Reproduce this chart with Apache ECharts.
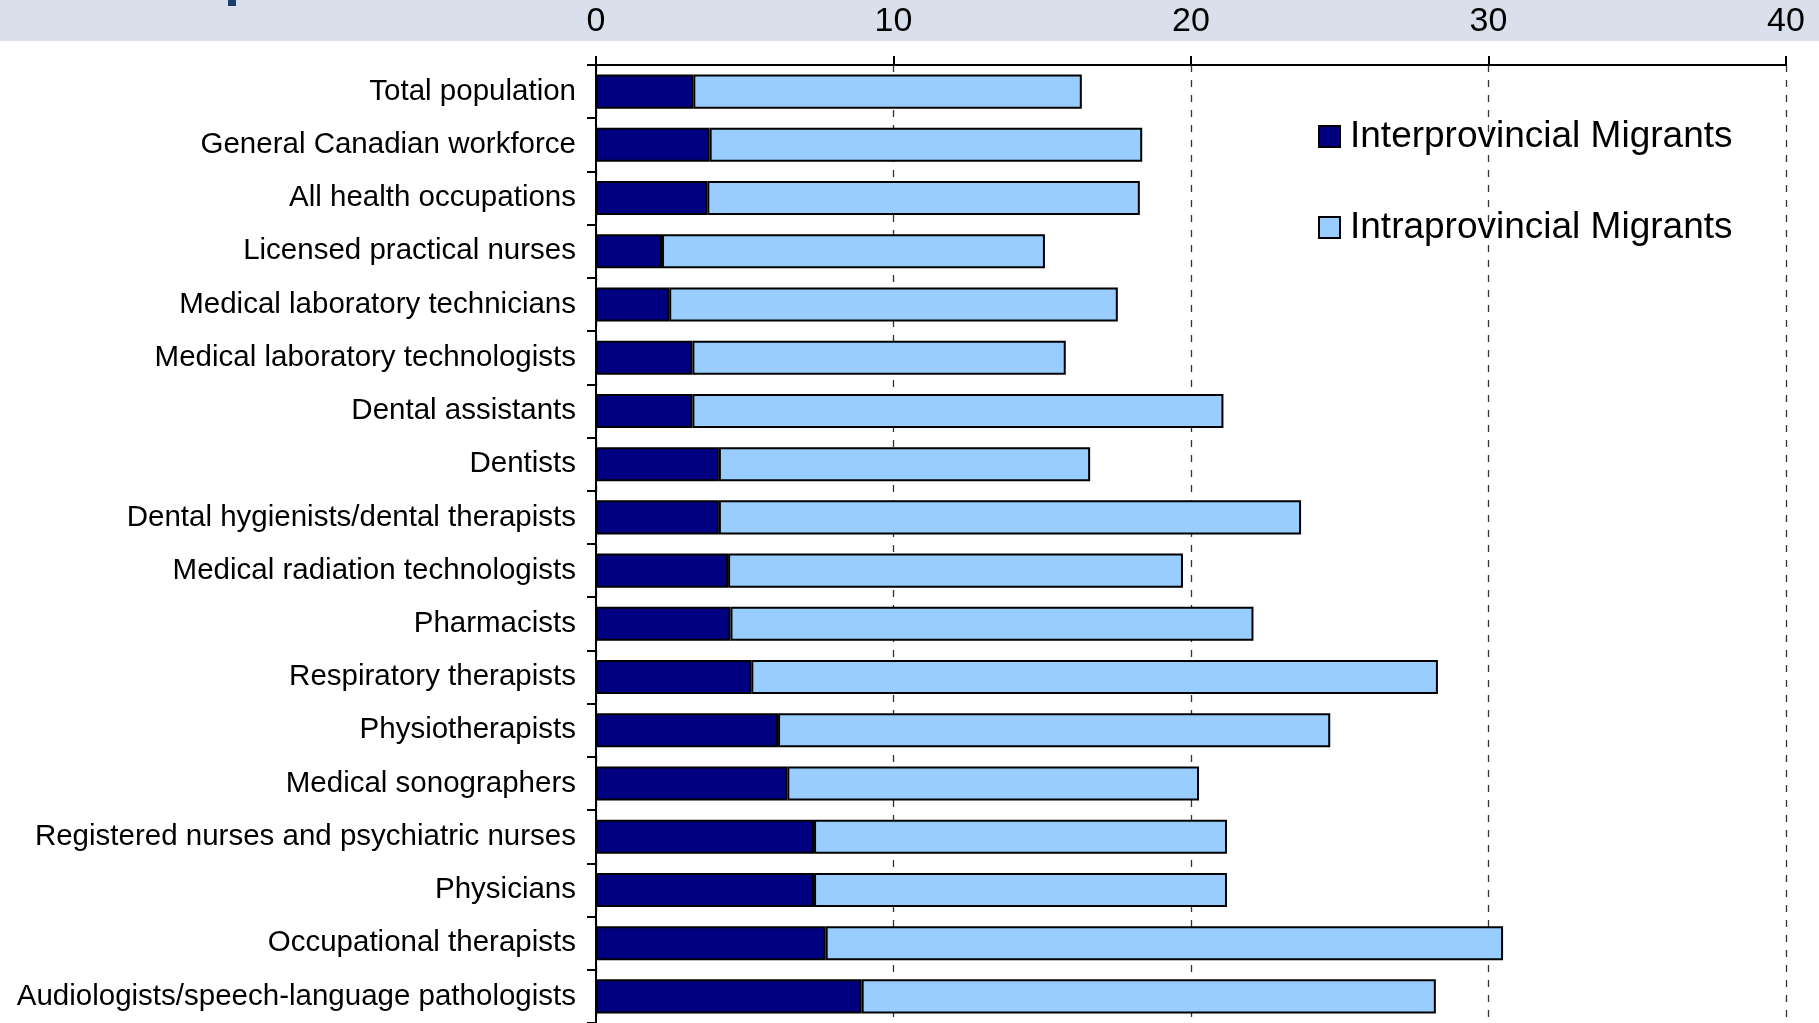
<!DOCTYPE html>
<html>
<head>
<meta charset="utf-8">
<script src="https://cdn.jsdelivr.net/npm/echarts@6/dist/echarts.min.js"></script>
<style>html,body{margin:0;padding:0;background:#fff;}#c{width:1819px;height:1023px;}</style>
</head>
<body>
<div id="c"></div>
<script>
const categories = [
  "Total population",
  "General Canadian workforce",
  "All health occupations",
  "Licensed practical nurses",
  "Medical laboratory technicians",
  "Medical laboratory technologists",
  "Dental assistants",
  "Dentists",
  "Dental hygienists/dental therapists",
  "Medical radiation technologists",
  "Pharmacists",
  "Respiratory therapists",
  "Physiotherapists",
  "Medical sonographers",
  "Registered nurses and psychiatric nurses",
  "Physicians",
  "Occupational therapists",
  "Audiologists/speech-language pathologists"
];
const interprovincial = [3.27, 3.82, 3.74, 2.22, 2.46, 3.24, 3.24, 4.13, 4.13, 4.44, 4.52, 5.22, 6.12, 6.43, 7.33, 7.33, 7.72, 8.93];
const intraprovincial = [13.06, 14.54, 14.54, 12.87, 15.08, 12.55, 17.85, 12.48, 19.57, 15.29, 17.58, 23.08, 18.56, 13.84, 13.88, 13.88, 22.77, 19.30];
const xTicks = [0, 10, 20, 30, 40];

const chart = echarts.init(document.getElementById('c'));
const font = 'Liberation Sans';
chart.setOption({
  animation: false,
  backgroundColor: '#ffffff',
  graphic: [
    {type: 'rect', left: 0, top: 0, z: -10, shape: {width: 1819, height: 41}, style: {fill: '#D9E0EC'}},
    {type: 'rect', left: 228, top: 0, z: -9, shape: {width: 8, height: 6}, style: {fill: '#1C3F6E'}}
  ],
  grid: {left: 596, right: 33, top: 65, height: 960, containLabel: false},
  legend: {
    orient: 'vertical',
    left: 1318,
    top: 118,
    padding: 0,
    itemWidth: 21,
    itemHeight: 21,
    itemGap: 54,
    icon: 'rect',
    textStyle: {fontFamily: font, fontSize: 37, color: '#000', padding: [0, 0, 0, 5]},
    data: ['Interprovincial Migrants', 'Intraprovincial Migrants']
  },
  xAxis: {
    type: 'value',
    position: 'top',
    min: xTicks[0],
    max: xTicks[xTicks.length - 1],
    interval: 10,
    axisLine: {show: true, lineStyle: {color: '#000', width: 2}},
    axisTick: {show: true, inside: false, length: 9, lineStyle: {color: '#000', width: 2}},
    axisLabel: {margin: 26, fontFamily: font, fontSize: 34, color: '#000'},
    splitLine: {show: true, lineStyle: {color: '#333', width: 1.3, type: [7, 8]}}
  },
  yAxis: {
    type: 'category',
    inverse: true,
    data: categories,
    axisLine: {show: true, lineStyle: {color: '#000', width: 2}},
    axisTick: {show: true, inside: false, length: 9, lineStyle: {color: '#000', width: 2}},
    axisLabel: {margin: 20, fontFamily: font, fontSize: 29.5, color: '#000', padding: [4, 0, 0, 0]}
  },
  series: [
    {
      name: 'Interprovincial Migrants',
      type: 'bar',
      stack: 'm',
      data: interprovincial,
      barCategoryGap: '36%',
      itemStyle: {color: '#000080', borderColor: '#000', borderWidth: 2}
    },
    {
      name: 'Intraprovincial Migrants',
      type: 'bar',
      stack: 'm',
      data: intraprovincial,
      barCategoryGap: '36%',
      itemStyle: {color: '#99CCFF', borderColor: '#000', borderWidth: 2}
    }
  ]
});
</script>
</body>
</html>
